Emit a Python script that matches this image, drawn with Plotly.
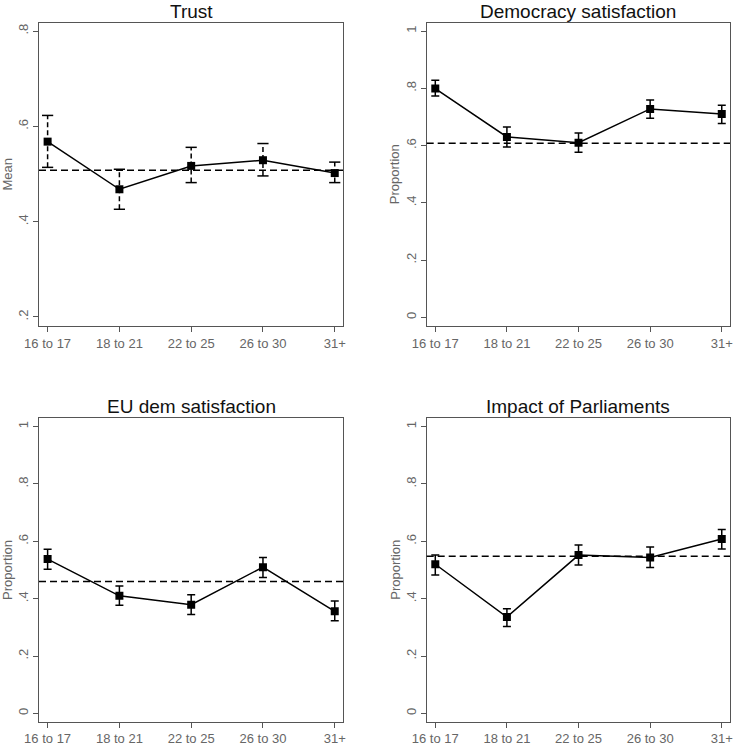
import plotly.graph_objects as go

categories = ["16 to 17", "18 to 21", "22 to 25", "26 to 30", "31+"]

titles = ["Trust", "Democracy satisfaction", "EU dem satisfaction", "Impact of Parliaments"]
ytitles = ["Mean", "Proportion", "Proportion", "Proportion"]

trust_mean = [0.568, 0.468, 0.517, 0.529, 0.502]
trust_lo = [0.514, 0.426, 0.482, 0.496, 0.482]
trust_hi = [0.623, 0.510, 0.556, 0.564, 0.525]
trust_overall = 0.508

demo_mean = [0.799, 0.630, 0.610, 0.728, 0.710]
demo_lo = [0.773, 0.595, 0.577, 0.695, 0.677]
demo_hi = [0.828, 0.665, 0.644, 0.759, 0.741]
demo_overall = 0.608

eu_mean = [0.538, 0.410, 0.379, 0.510, 0.356]
eu_lo = [0.503, 0.377, 0.345, 0.474, 0.323]
eu_hi = [0.572, 0.444, 0.414, 0.544, 0.392]
eu_overall = 0.460

imp_mean = [0.520, 0.336, 0.552, 0.544, 0.608]
imp_lo = [0.483, 0.303, 0.517, 0.509, 0.573]
imp_hi = [0.552, 0.365, 0.587, 0.580, 0.641]
imp_overall = 0.548

trust_ticks = [0.2, 0.4, 0.6, 0.8]
trust_ticktext = [".2", ".4", ".6", ".8"]
prop_ticks = [0, 0.2, 0.4, 0.6, 0.8, 1]
prop_ticktext = ["0", ".2", ".4", ".6", ".8", "1"]

W, H = 733, 745
FONT = "Liberation Sans, Arial, sans-serif"
AXC = "#555555"
TICKC = "#666666"

fig = go.Figure()

panels = [
    (trust_mean, trust_lo, trust_hi, trust_overall, True),
    (demo_mean, demo_lo, demo_hi, demo_overall, False),
    (eu_mean, eu_lo, eu_hi, eu_overall, False),
    (imp_mean, imp_lo, imp_hi, imp_overall, False),
]

# pixel geometry of each plot frame: (left, right, top, bottom)
frames = [
    (39, 343, 23, 326),
    (426.7, 730, 23, 326),
    (39, 343, 418.3, 721.7),
    (426.7, 730, 418.3, 721.7),
]
yranges = [[0.181, 0.817], [-0.030, 1.028], [-0.029, 1.029], [-0.029, 1.029]]

for i, ((mean, lo, hi, overall, dashed_ci), (l, r, t, b)) in enumerate(zip(panels, frames)):
    n = "" if i == 0 else str(i + 1)
    xa, ya = "x" + n, "y" + n
    if dashed_ci:
        xs, ys = [], []
        for c, a, z in zip(categories, lo, hi):
            xs += [c, c, None]
            ys += [a, z, None]
        fig.add_trace(go.Scatter(x=xs, y=ys, mode="lines", xaxis=xa, yaxis=ya,
                                 line=dict(color="black", width=1.5, dash="5px,3px"),
                                 showlegend=False, hoverinfo="skip"))
        fig.add_trace(go.Scatter(x=categories + categories, y=lo + hi, mode="markers",
                                 xaxis=xa, yaxis=ya,
                                 marker=dict(symbol="line-ew", size=8,
                                             line=dict(color="black", width=1.5)),
                                 showlegend=False, hoverinfo="skip"))
        err = None
    else:
        err = dict(type="data", symmetric=False,
                   array=[h - m for h, m in zip(hi, mean)],
                   arrayminus=[m - a for m, a in zip(mean, lo)],
                   color="black", thickness=1.5, width=4)
    fig.add_trace(go.Scatter(x=categories, y=mean, mode="lines+markers",
                             xaxis=xa, yaxis=ya, error_y=err,
                             line=dict(color="black", width=1.5),
                             marker=dict(symbol="square", size=8, color="black"),
                             showlegend=False))
    fig.add_shape(type="line", xref=xa + " domain", yref=ya, x0=0, x1=1,
                  y0=overall, y1=overall,
                  line=dict(color="black", width=1.5, dash="7px,4px"), layer="above")

    xdom = [l / W, r / W]
    ydom = [1 - b / H, 1 - t / H]
    ticks = trust_ticks if i == 0 else prop_ticks
    ticktext = trust_ticktext if i == 0 else prop_ticktext
    fig.layout["xaxis" + n] = dict(
        domain=xdom, anchor=ya, type="category", range=[-0.12, 4.115],
        automargin=False,
        showline=True, linecolor=AXC, linewidth=1, mirror=True,
        ticks="outside", ticklen=5, tickcolor=AXC, showgrid=False, zeroline=False,
        tickfont=dict(family=FONT, size=13, color=TICKC),
        categoryorder="array", categoryarray=categories)
    fig.layout["yaxis" + n] = dict(
        domain=ydom, anchor=xa, range=yranges[i], automargin=False,
        tickvals=ticks, ticktext=ticktext, tickangle=-90,
        showline=True, linecolor=AXC, linewidth=1, mirror=True,
        ticks="outside", ticklen=5, tickcolor=AXC, showgrid=False, zeroline=False,
        tickfont=dict(family=FONT, size=13, color=TICKC))

    # subplot title
    fig.add_annotation(text=titles[i], xref="paper", yref="paper",
                       x=(l + r) / 2 / W, y=1 - (t - 11.5) / H,
                       xanchor="center", yanchor="middle", showarrow=False,
                       borderpad=0,
                       font=dict(family=FONT, size=19, color="#111111"))
    # y-axis title
    fig.add_annotation(text=ytitles[i], xref="paper", yref="paper",
                       x=(l - 32) / W, y=1 - (t + b) / 2 / H, textangle=-90,
                       xanchor="center", yanchor="middle", showarrow=False,
                       font=dict(family=FONT, size=13, color=TICKC))

fig.update_layout(width=W, height=H, margin=dict(l=0, r=0, t=0, b=0, autoexpand=False),
                  paper_bgcolor="white", plot_bgcolor="white", showlegend=False)

fig.write_html("out.html", config={"displayModeBar": False},
               post_script="document.body.style.margin='0';document.body.style.overflow='hidden';")
